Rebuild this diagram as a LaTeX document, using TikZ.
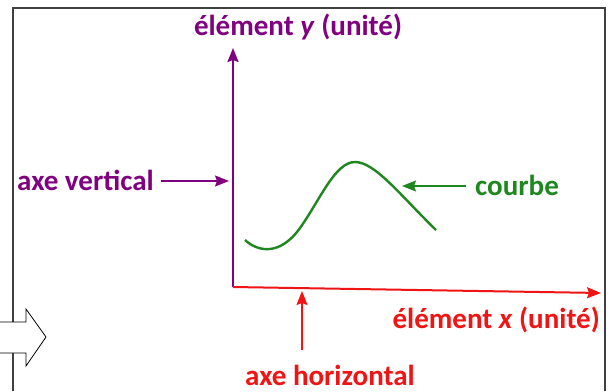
\documentclass[tikz,border=0pt]{standalone}
\usepackage{fontspec}
\setmainfont{Carlito}
\usepackage{xcolor}
\usetikzlibrary{positioning,arrows.meta}
\definecolor{axeviolet}{RGB}{128,0,128}
\definecolor{courbevert}{RGB}{30,135,30}
\definecolor{axerouge}{RGB}{240,20,20}
\tikzset{
  lbl/.style={font=\bfseries\fontsize{29}{32}\selectfont,inner sep=1pt},
  fl/.style={line width=1.5pt,-{Stealth[length=14pt,width=11pt,inset=2pt]}},
}
\begin{document}
\begin{tikzpicture}[x=1pt,y=-1pt]
\useasboundingbox (0,0) rectangle (613,391);
\draw[line width=1.8pt,black!75] (13,391)--(13,8)--(605,8)--(605,391);
\draw[thick,fill=white] (0,322)--(26,322)--(26,309)--(46,337)--(26,366)--(26,353)--(0,353);
% axes
\coordinate (O) at (233,287);
\coordinate (ytop) at (233,48);
\coordinate (xend) at (601,293);
\node[lbl,axeviolet] (ylab) at (298,27) {élément \textit{y} (unité)};
\draw[fl,axeviolet,line width=2pt] (O)--(ytop);
\draw[fl,axerouge,line width=2pt] (O)--(xend);
\node[lbl,axerouge,anchor=east] (xlab) at (601,320) {élément \textit{x} (unité)};
% courbe
\draw[courbevert,line width=2.4pt] (245,240) .. controls (258,252) and (280,256) .. (300,228)
  .. controls (320,200) and (335,162) .. (355,162)
  .. controls (375,162) and (400,195) .. (436,230);
% etiquettes
\node[lbl,axeviolet,anchor=west] (vert) at (16,180) {axe vertical};
\coordinate (vertpt) at (229,181);
\draw[fl,axeviolet] (vert.east)++(6,1)--(vertpt);
\node[lbl,courbevert,anchor=west] (courbe) at (474,185) {courbe};
\coordinate (courbept) at (402,186);
\draw[fl,courbevert] (courbe.west)++(-8,1)--(courbept);
\node[lbl,axerouge] (horiz) at (330,375) {axe horizontal};
\coordinate (horizbas) at (302,350);
\coordinate (horizpt) at (302,291);
\draw[fl,axerouge] (horizbas)--(horizpt);
\end{tikzpicture}
\end{document}
